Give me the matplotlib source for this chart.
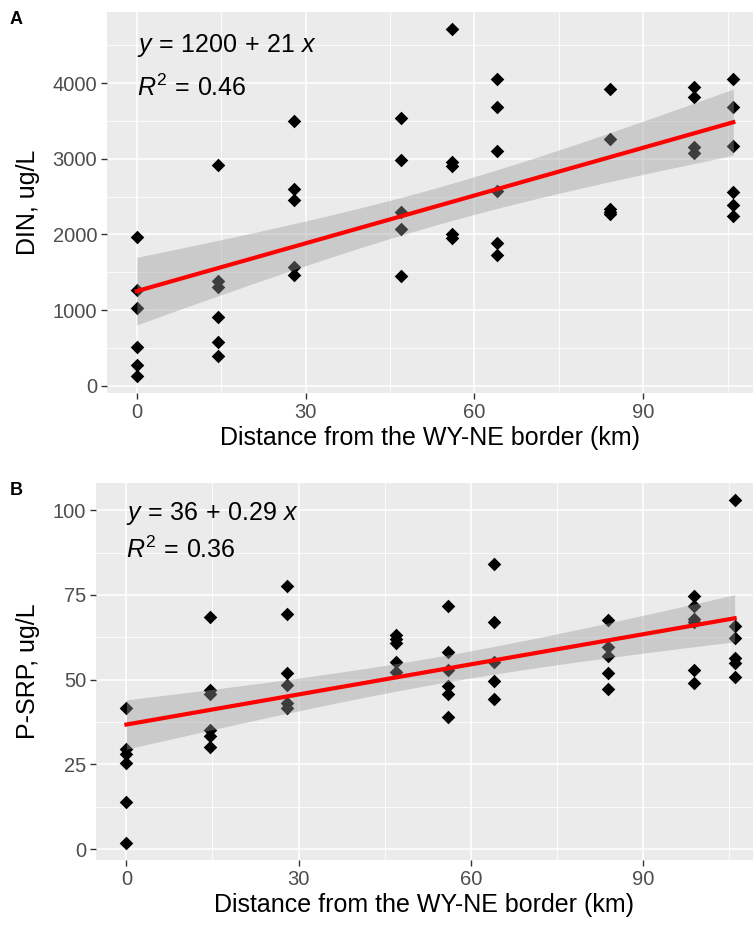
import numpy as np
import matplotlib
matplotlib.use("Agg")
import matplotlib.pyplot as plt

FONT = "Liberation Sans"
plt.rcParams["font.family"] = [FONT, "DejaVu Sans"]
plt.rcParams["mathtext.fontset"] = "custom"
plt.rcParams["mathtext.rm"] = FONT
plt.rcParams["mathtext.it"] = FONT + ":italic"

# ---------------- data ----------------
din_x = [0, 0, 0, 0, 0, 0,
         14.5, 14.5, 14.5, 14.5, 14.5, 14.5,
         28, 28, 28, 28, 28,
         47, 47, 47, 47, 47,
         56, 56, 56, 56, 56,
         64, 64, 64, 64, 64, 64,
         84, 84, 84, 84, 84,
         99, 99, 99, 99,
         106, 106, 106, 106, 106, 106]
din_y = [1965, 1266, 1027, 518, 275, 133,
         2922, 1390, 1301, 903, 584, 394,
         3493, 2603, 2453, 1567, 1470,
         3537, 2984, 2302, 2072, 1452,
         4710, 2961, 2899, 2001, 1948,
         4050, 3683, 3108, 2576, 1882, 1726,
         3918, 3263, 2333, 2300, 2267,
         3944, 3815, 3151, 3072,
         4050, 3683, 3174, 2559, 2390, 2240]

srp_x = [0, 0, 0, 0, 0, 0,
         14.5, 14.5, 14.5, 14.5, 14.5, 14.5,
         28, 28, 28, 28, 28, 28,
         47, 47, 47, 47, 47,
         56, 56, 56, 56, 56, 56,
         64, 64, 64, 64, 64,
         84, 84, 84, 84, 84,
         99, 99, 99, 99, 99, 99,
         106, 106, 106, 106, 106, 106]
srp_y = [41.6, 29.5, 28.2, 25.3, 13.8, 1.9,
         68.6, 46.8, 45.8, 35.0, 33.4, 30.2,
         77.5, 69.4, 52.0, 48.5, 43.0, 41.6,
         63.2, 62.1, 60.8, 55.3, 52.4,
         71.7, 58.1, 52.9, 48.2, 45.8, 39.1,
         84.0, 66.9, 55.1, 49.5, 44.3,
         67.5, 59.5, 57.1, 51.9, 47.2,
         74.8, 71.8, 67.9, 67.1, 52.9, 49.1,
         102.9, 65.7, 62.3, 56.5, 54.9, 50.9]

x_ticks = [0, 30, 60, 90]
din_ticks = [0, 1000, 2000, 3000, 4000]
srp_ticks = [0, 25, 50, 75, 100]
x_label = "Distance from the WY-NE border (km)"
eq_a = [r"$y\,=\,1200\,+\,21\ x$", r"$R^2\,=\,0.46$"]
eq_b = [r"$y\,=\,36\,+\,0.29\ x$", r"$R^2\,=\,0.36$"]

W, H = 753, 926
fig = plt.figure(figsize=(W / 100, H / 100), dpi=100)


def px_axes(l, t, r, b):
    return fig.add_axes([l / W, 1 - b / H, (r - l) / W, (b - t) / H])


def fit_band(x, y, grid):
    x = np.asarray(x, float); y = np.asarray(y, float)
    n = len(x)
    b, a = np.polyfit(x, y, 1)
    res = y - (a + b * x)
    s = np.sqrt(np.sum(res ** 2) / (n - 2))
    sxx = np.sum((x - x.mean()) ** 2)
    se = s * np.sqrt(1 / n + (grid - x.mean()) ** 2 / sxx)
    t = 2.01
    fit = a + b * grid
    return fit, fit - t * se, fit + t * se


def panel(ax, x, y, yticks, ylabel, eq, xlim, ylim, yminor, xminor, eqy):
    ax.set_facecolor("#EBEBEB")
    ax.set_xlim(*xlim); ax.set_ylim(*ylim)
    ax.set_xticks(x_ticks); ax.set_yticks(yticks)
    ax.set_xticks(xminor, minor=True); ax.set_yticks(yminor, minor=True)
    ax.grid(which="major", color="white", lw=1.1)
    ax.grid(which="minor", color="white", lw=0.6)
    ax.set_axisbelow(True)
    for s in ax.spines.values():
        s.set_visible(False)
    ax.tick_params(which="major", length=4, width=1, color="#333333",
                   labelcolor="#4D4D4D", labelsize=14.5, pad=3)
    ax.tick_params(which="minor", length=0)
    ax.scatter(x, y, marker="D", s=48, color="black", lw=0, zorder=2)
    grid = np.linspace(min(x), max(x), 80)
    fit, lo, hi = fit_band(x, y, grid)
    ax.fill_between(grid, lo, hi, color="#999999", alpha=0.4, lw=0, zorder=3)
    ax.plot(grid, fit, color="red", lw=3, zorder=4)
    ax.set_xlabel(x_label, fontsize=18, color="black", labelpad=3)
    ax.set_ylabel(ylabel, fontsize=18, color="black", labelpad=9)
    tr = ax.get_xaxis_transform()
    ax.text(0, eqy[0], eq[0], transform=tr, fontsize=18,
            ha="left", va="center", color="black")
    ax.text(0, eqy[1], eq[1], transform=tr, fontsize=18,
            ha="left", va="center", color="black")


axA = px_axes(107, 12, 753, 393)
panel(axA, din_x, din_y, din_ticks, "DIN, ug/L", eq_a, (-5.3, 109.5), (-96, 4939),
      [500, 1500, 2500, 3500, 4500], [15, 45, 75, 105], (0.913, 0.80))
axB = px_axes(96, 483, 753, 860)
panel(axB, srp_x, srp_y, srp_ticks, "P-SRP, ug/L", eq_b, (-5.3, 109.2), (-3.2, 108),
      [12.5, 37.5, 62.5, 87.5], [15, 45, 75, 105], (0.92, 0.822))

fig.text(10 / W, 1 - 20 / H, "A", fontsize=13, fontweight="bold", va="center", ha="left")
fig.text(10 / W, 1 - 491 / H, "B", fontsize=13, fontweight="bold", va="center", ha="left")

fig.savefig("out.png", dpi=100, facecolor="white")
